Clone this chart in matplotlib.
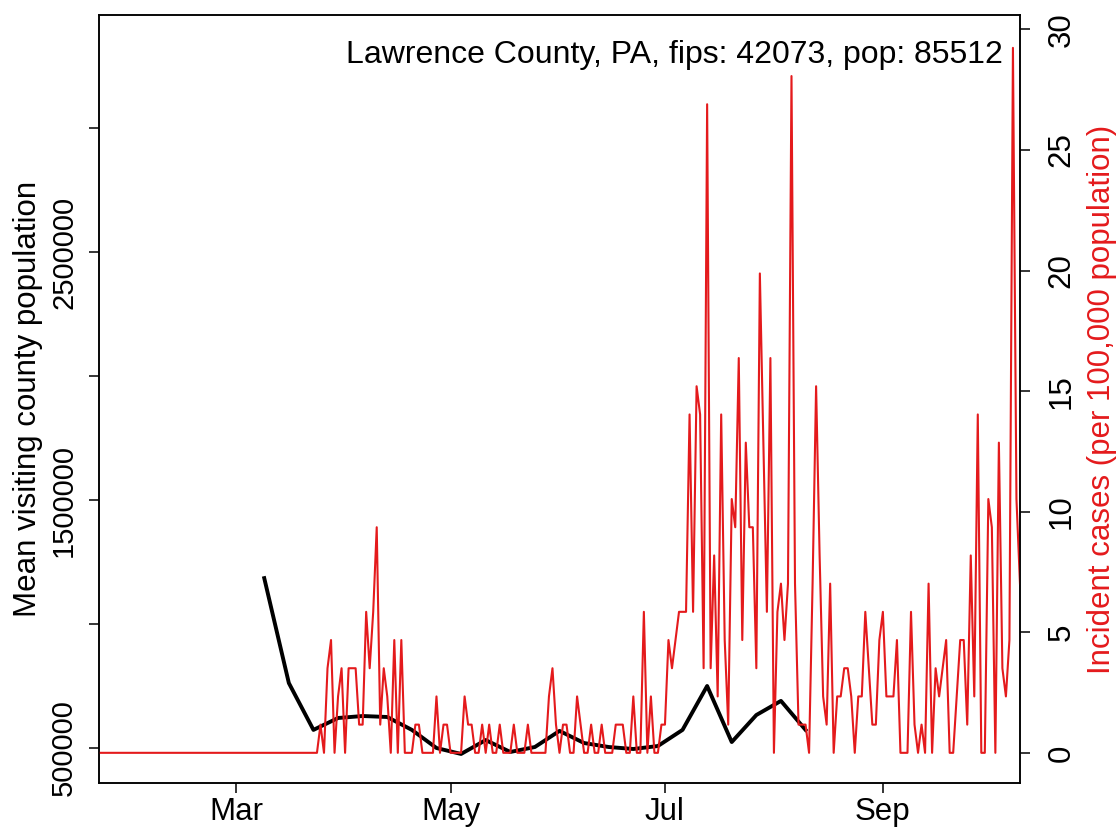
import matplotlib
matplotlib.use("Agg")
import matplotlib.pyplot as plt
import pandas as pd

plt.rcParams['font.family'] = ['Liberation Sans', 'DejaVu Sans']

# dados
county_label = "Lawrence County, PA, fips: 42073, pop: 85512"
county_pop = 85512

# casos diarios (contagem) de 22 jan a 10 out 2020
daily_cases = [
    0, 0, 0, 0, 0, 0, 0, 0, 0, 0,  # jan 22-31
    0, 0, 0, 0, 0, 0, 0, 0, 0, 0, 0, 0, 0, 0, 0, 0, 0, 0, 0, 0,  # fev
    0, 0, 0, 0, 0, 0, 0, 0, 0,
    0, 0, 0, 0, 0, 0, 0, 0, 0, 0, 0, 0, 0, 0, 0, 0, 0, 0, 0, 0, 0, 0, 0, 0,
    1, 0, 3, 4, 0, 2, 3, 0,  # mar 25 - abr 1
    3, 3, 3, 1, 1, 5, 3, 5, 8, 1, 3, 2, 0, 4, 0, 4, 0, 0, 0, 1, 1, 0, 0, 0,
    0, 2, 0, 1, 1, 0,
    0, 0, 0, 2, 1, 1, 0, 0, 1, 0, 1, 0, 0, 1, 0, 0, 0, 1, 0, 0, 0, 1, 0, 0,
    0, 0, 0, 2, 3, 1,
    0, 1, 1, 0, 0, 2, 1, 0, 0, 1, 0, 0, 1, 0, 0, 0, 1, 1, 1, 0, 0, 2, 0, 0,
    5, 0, 2, 0, 0,
    1, 1, 4, 3, 4, 5, 5, 5, 12, 5, 13, 12, 3, 23, 3, 7, 2, 12, 4, 1, 9, 8,
    14, 4, 11, 8, 8, 3, 17, 11, 5,
    14, 0, 5, 6, 4, 6, 24, 6, 1, 1, 1, 0, 6, 13, 7, 2, 1, 6, 0, 2, 2, 3, 3,
    2, 0, 2, 2, 5, 3, 1, 1,
    4, 5, 2, 2, 2, 4, 0, 0, 0, 5, 1, 0, 1, 0, 6, 0, 3, 2, 3, 4, 0, 0, 2, 4,
    4, 1, 7, 2, 12, 0,
    0, 9, 8, 0, 11, 3, 2, 4, 25, 9, 6,  # ate 10 out
]
case_dates = pd.date_range("2020-01-22", periods=len(daily_cases), freq="D")
incident = [c * 100000 / county_pop for c in daily_cases]

# media semanal da populacao visitante
visit_dates = pd.date_range("2020-03-09", periods=23, freq="7D")
visit_pop = [1185000, 762000, 573000, 621000, 629000, 625000, 573000, 500000,
             476000, 532000, 484000, 504000, 569000, 520000, 504000, 496000,
             508000, 573000, 750000, 524000, 633000, 690000, 573000]

month_ticks = pd.to_datetime(["2020-03-01", "2020-05-01", "2020-07-01", "2020-09-01"])
month_labels = ["Mar", "May", "Jul", "Sep"]
left_ticks = [500000, 1000000, 1500000, 2000000, 2500000, 3000000]
left_labels = ["500000", "", "1500000", "", "2500000", ""]
right_ticks = [0, 5, 10, 15, 20, 25, 30]

red = '#e41a1c'
fs = 22.5

fig = plt.figure(figsize=(11.19, 8.31), dpi=100)
ax = fig.add_axes([0.0885, 0.0578, 0.823, 0.9242])
ax.plot(visit_dates, visit_pop, color='black', lw=2.8, solid_joinstyle='round')
ax.set_xlim(case_dates[0], case_dates[-1])
ax.set_ylim(359000, 3456000)
ax.set_yticks(left_ticks)
ax.set_yticklabels(left_labels, rotation=90, va='center')
ax.set_xticks(month_ticks)
ax.set_xticklabels(month_labels)
ax.tick_params(axis='both', direction='out', length=7, width=1.1, labelsize=fs)
ax.tick_params(axis='y', pad=8, labelsize=21)
ax.tick_params(axis='x', pad=3)
ax.set_ylabel("Mean visiting county population", fontsize=fs, labelpad=5)

ax2 = ax.twinx()
ax2.plot(case_dates, incident, color=red, lw=1.5)
ax2.set_ylim(-1.25, 30.6)
ax2.set_yticks(right_ticks)
ax2.set_yticklabels([str(t) for t in right_ticks], rotation=90, va='center')
ax2.tick_params(axis='y', direction='out', length=7, width=1.1, labelsize=fs, pad=12)
ax2.set_ylabel("Incident cases (per 100,000 population)", fontsize=fs, color=red,
               labelpad=8)
ax2.set_xlim(case_dates[0], case_dates[-1])

for a in (ax, ax2):
    for s in a.spines.values():
        s.set_linewidth(1.1)

ax2.text(0.9815, 0.948, county_label, transform=ax.transAxes, ha='right',
         va='center', fontsize=23)

fig.savefig("out.png", dpi=100)
